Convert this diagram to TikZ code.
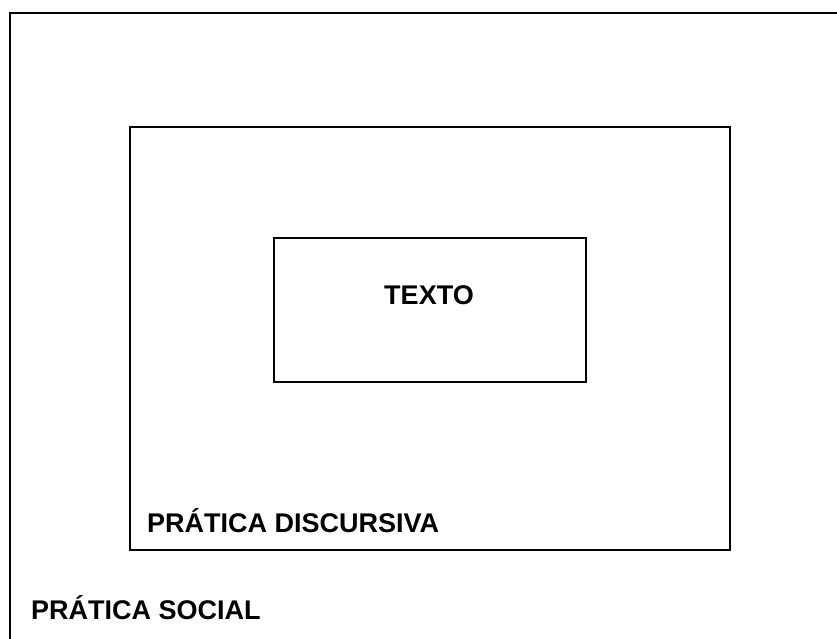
\documentclass[tikz,border=0pt]{standalone}
\usepackage{fontspec}
\setmainfont{Liberation Sans}
\usetikzlibrary{positioning}

\begin{document}
\begin{tikzpicture}[x=1pt,y=-1pt,
  frame/.style={draw,line width=1.6pt,rectangle},
  lbl/.style={inner sep=0pt,font=\fontsize{27}{30}\selectfont\bfseries}]
\useasboundingbox (0,0) rectangle (837,638);
\clip (0,0) rectangle (837,638);
% outer box runs past the page edge
\node (social) [frame,minimum width=850pt,minimum height=647pt] at (435,336.5) {};
\node (discursiva) [frame,minimum width=600pt,minimum height=423pt] at (430,338.5) {};
\node (texto) [frame,minimum width=312pt,minimum height=144pt] at (430,310) {};
\node (textolbl) [lbl,anchor=base] at (429,304) {TEXTO};
\node (discursivalbl) [lbl,anchor=base west] at (147,532) {PRÁTICA DISCURSIVA};
\node (sociallbl) [lbl,anchor=base west] at (31,619) {PRÁTICA SOCIAL};
\end{tikzpicture}
\end{document}
